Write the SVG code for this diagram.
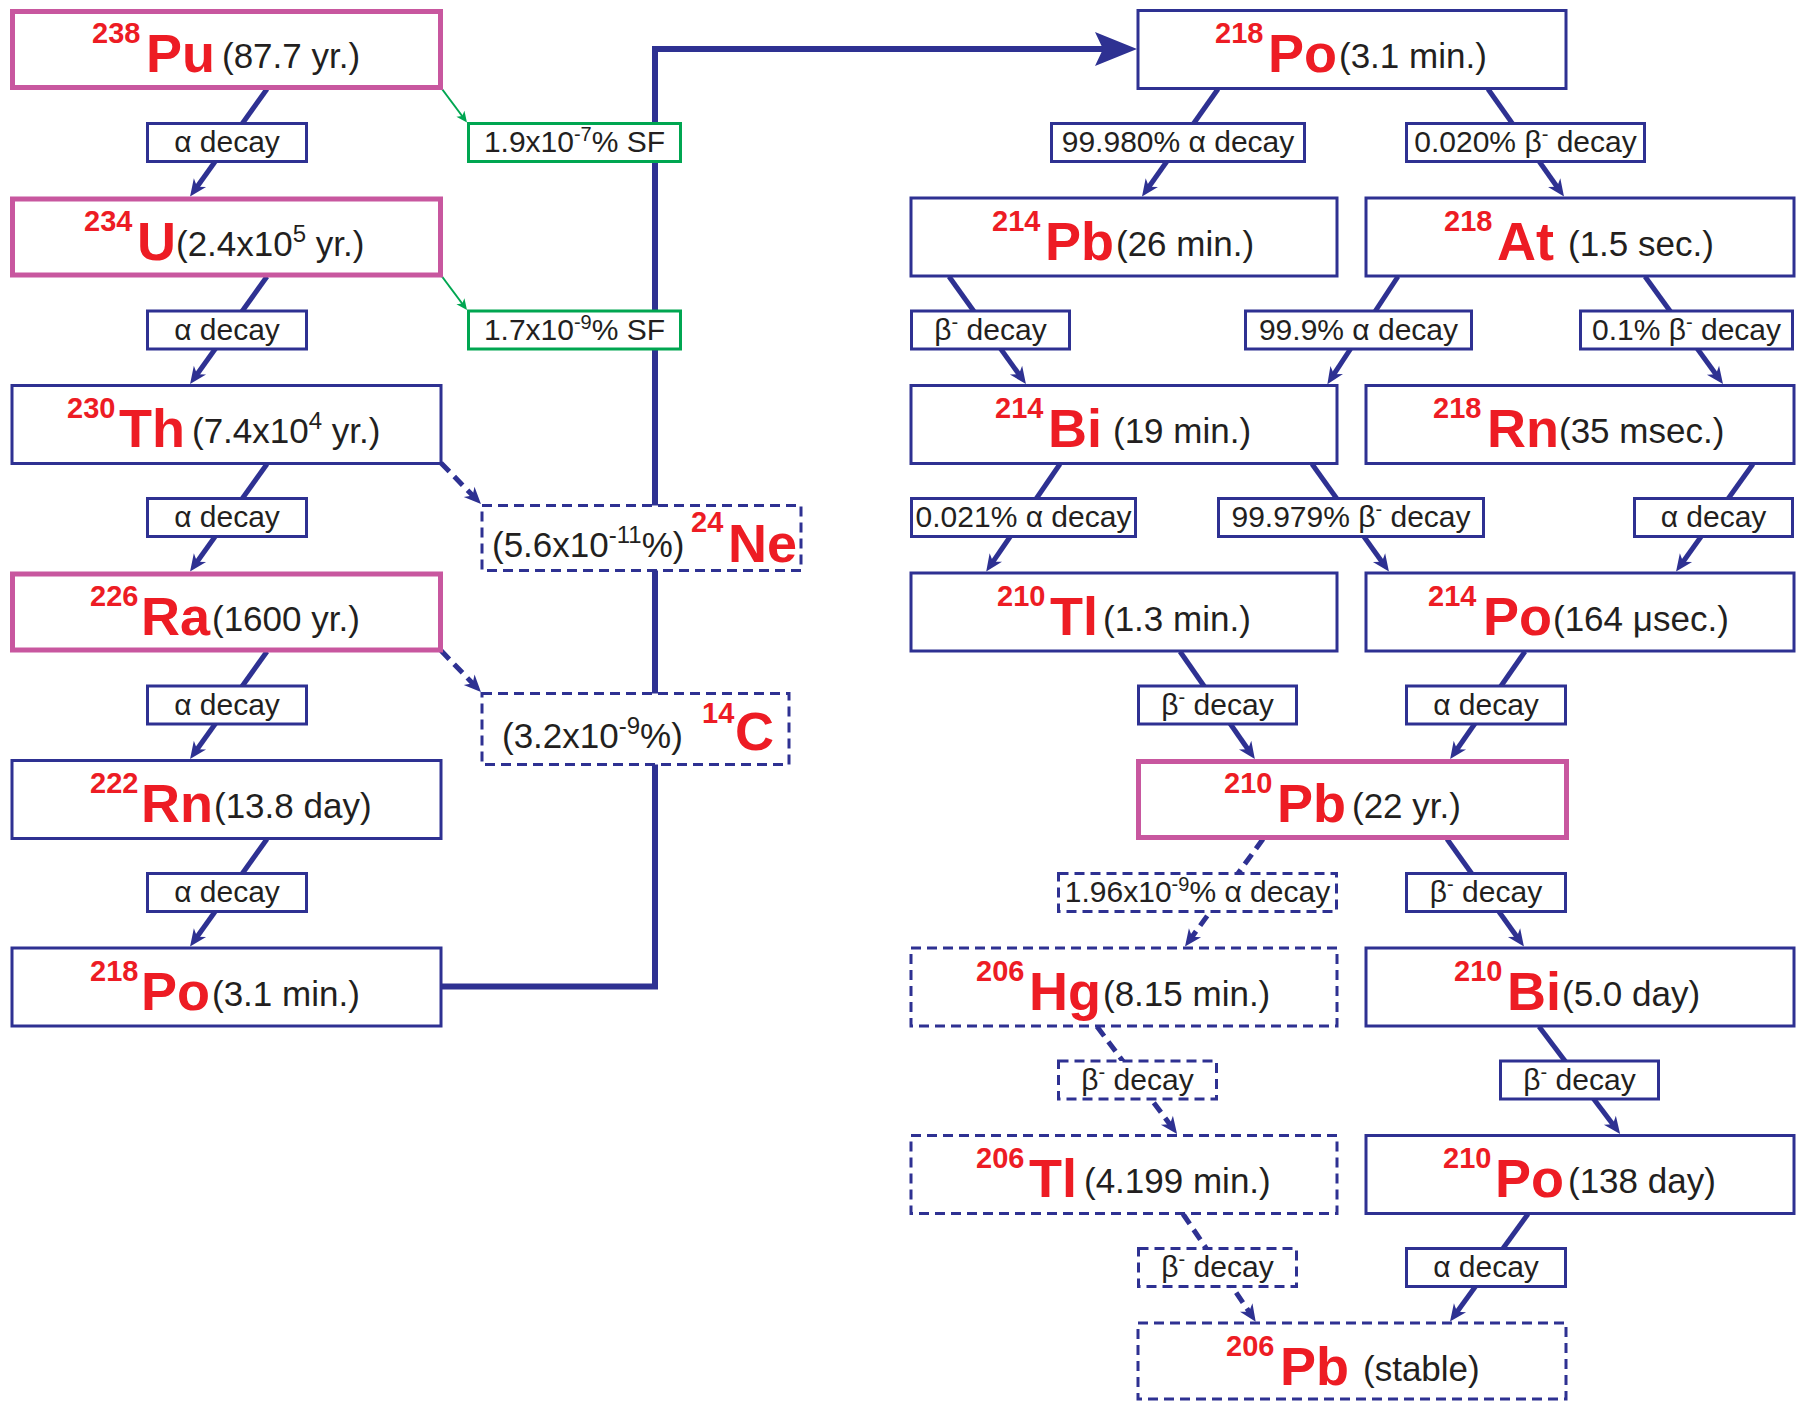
<svg xmlns="http://www.w3.org/2000/svg" width="1801" height="1401" viewBox="0 0 1801 1401">
<style>
.node{fill:#fff;stroke:#2E3192;stroke-width:3}
.mag{fill:#fff;stroke:#C8579F;stroke-width:5}
.dash{fill:#fff;stroke:#2E3192;stroke-width:3;stroke-dasharray:10 6}
.lbl{fill:#fff;stroke:#2E3192;stroke-width:3}
.sf{fill:#fff;stroke:#00A651;stroke-width:3}
.mass{font-family:'Liberation Sans',Arial,Helvetica,sans-serif;font-weight:bold;font-size:29px;fill:#ED1C24}
.sym{font-family:'Liberation Sans',Arial,Helvetica,sans-serif;font-weight:bold;font-size:54px;fill:#ED1C24}
.hl{font-family:'Liberation Sans',Arial,Helvetica,sans-serif;font-size:35px;fill:#231F20}
.lt{font-family:'Liberation Sans',Arial,Helvetica,sans-serif;font-size:30px;fill:#231F20;text-anchor:middle}
.sup{font-size:24px}
.sup2{font-size:20px}
.conn{fill:none;stroke:#2E3192;stroke-width:5;marker-end:url(#ah)}
.connd{fill:none;stroke:#2E3192;stroke-width:5;stroke-dasharray:12 7;marker-end:url(#ah)}
.conng{fill:none;stroke:#00A651;stroke-width:2;marker-end:url(#ahg)}
.big{fill:none;stroke:#2E3192;stroke-width:6;marker-end:url(#ahb)}
</style>
<defs>
<marker id="ah" markerUnits="userSpaceOnUse" viewBox="-18 -9 18 18" markerWidth="18" markerHeight="18" refX="-9" refY="0" orient="auto"><path d="M0,0 L-17,-7.5 L-12,0 L-17,7.5 Z" fill="#2E3192"/></marker>
<marker id="ahg" markerUnits="userSpaceOnUse" viewBox="-12 -6 12 12" markerWidth="12" markerHeight="12" refX="-5" refY="0" orient="auto"><path d="M0,0 L-11,-5 L-8,0 L-11,5 Z" fill="#00A651"/></marker>
<marker id="ahb" markerUnits="userSpaceOnUse" viewBox="-44 -18 44 36" markerWidth="44" markerHeight="36" refX="-30" refY="0" orient="auto"><path d="M0,0 L-42,-17 L-34,0 L-42,17 Z" fill="#2E3192"/></marker>
</defs>
<rect x="0" y="0" width="1801" height="1401" fill="#fff"/>

<g id="connectors">
<path class="big" d="M442,986.5 H655 V49 H1107"/>
<line class="conn" x1="267" y1="89" x2="195.3" y2="189.2"/>
<line class="conn" x1="267" y1="276.5" x2="195.3" y2="376.7"/>
<line class="conn" x1="267" y1="464" x2="195.3" y2="564.2"/>
<line class="conn" x1="267" y1="651.5" x2="195.3" y2="751.7"/>
<line class="conn" x1="267" y1="839" x2="195.3" y2="939.2"/>
<line class="conng" x1="442" y1="89" x2="464" y2="118.5"/>
<line class="conng" x1="442" y1="276.5" x2="464" y2="306"/>
<line class="connd" x1="441" y1="463" x2="474.7" y2="497.6"/>
<line class="connd" x1="441" y1="650.5" x2="474.7" y2="685.5"/>
<line class="conn" x1="1218" y1="89" x2="1147.2" y2="189.2"/>
<line class="conn" x1="1488" y1="89" x2="1558.8" y2="189.2"/>
<line class="conn" x1="949" y1="276.5" x2="1020.7" y2="376.7"/>
<line class="conn" x1="1398" y1="276.5" x2="1332.3" y2="376.7"/>
<line class="conn" x1="1645" y1="276.5" x2="1717.7" y2="376.7"/>
<line class="conn" x1="1060" y1="464" x2="991.3" y2="564.2"/>
<line class="conn" x1="1312" y1="464" x2="1383.7" y2="564.2"/>
<line class="conn" x1="1753" y1="464" x2="1681.3" y2="564.2"/>
<line class="conn" x1="1180" y1="651.5" x2="1249.7" y2="751.7"/>
<line class="conn" x1="1525" y1="651.5" x2="1455.3" y2="751.7"/>
<line class="connd" x1="1263" y1="839" x2="1190.3" y2="939.2"/>
<line class="conn" x1="1447" y1="839" x2="1518.7" y2="939.2"/>
<line class="connd" x1="1097" y1="1026.5" x2="1171.7" y2="1126.7"/>
<line class="conn" x1="1539" y1="1026.5" x2="1614.7" y2="1126.7"/>
<line class="connd" x1="1183" y1="1214" x2="1250.7" y2="1314.2"/>
<line class="conn" x1="1528" y1="1214" x2="1455.3" y2="1314.2"/>
</g>

<g id="labels">
<g id="l-pu"><rect class="lbl" x="147.5" y="123.5" width="159" height="38"/><text class="lt" x="227" y="152">α decay</text></g>
<g id="l-u"><rect class="lbl" x="147.5" y="311" width="159" height="38"/><text class="lt" x="227" y="339.5">α decay</text></g>
<g id="l-th"><rect class="lbl" x="147.5" y="498.5" width="159" height="38"/><text class="lt" x="227" y="527">α decay</text></g>
<g id="l-ra"><rect class="lbl" x="147.5" y="686" width="159" height="38"/><text class="lt" x="227" y="714.5">α decay</text></g>
<g id="l-rn"><rect class="lbl" x="147.5" y="873.5" width="159" height="38"/><text class="lt" x="227" y="902">α decay</text></g>
<g id="l-sf1"><rect class="sf" x="468.5" y="123.5" width="212" height="38"/><text class="lt" x="574.5" y="152">1.9x10<tspan class="sup2" dy="-11">-7</tspan><tspan dy="11">% SF</tspan></text></g>
<g id="l-sf2"><rect class="sf" x="468.5" y="311" width="212" height="38"/><text class="lt" x="574.5" y="339.5">1.7x10<tspan class="sup2" dy="-11">-9</tspan><tspan dy="11">% SF</tspan></text></g>

<g id="l-po-pb"><rect class="lbl" x="1051.5" y="123.5" width="253" height="38"/><text class="lt" x="1178" y="152">99.980% α decay</text></g>
<g id="l-po-at"><rect class="lbl" x="1406.5" y="123.5" width="238" height="38"/><text class="lt" x="1525.5" y="152">0.020% β<tspan class="sup2" dy="-11">-</tspan><tspan dy="11"> decay</tspan></text></g>
<g id="l-pb-bi"><rect class="lbl" x="911.5" y="311" width="158" height="38"/><text class="lt" x="990.5" y="339.5">β<tspan class="sup2" dy="-11">-</tspan><tspan dy="11"> decay</tspan></text></g>
<g id="l-at-bi"><rect class="lbl" x="1245.5" y="311" width="226" height="38"/><text class="lt" x="1358.5" y="339.5">99.9% α decay</text></g>
<g id="l-at-rn"><rect class="lbl" x="1580.5" y="311" width="212" height="38"/><text class="lt" x="1686.5" y="339.5">0.1% β<tspan class="sup2" dy="-11">-</tspan><tspan dy="11"> decay</tspan></text></g>
<g id="l-bi-tl"><rect class="lbl" x="911.5" y="498.5" width="224" height="38"/><text class="lt" x="1023.5" y="527">0.021% α decay</text></g>
<g id="l-bi-po"><rect class="lbl" x="1218.5" y="498.5" width="265" height="38"/><text class="lt" x="1351" y="527">99.979% β<tspan class="sup2" dy="-11">-</tspan><tspan dy="11"> decay</tspan></text></g>
<g id="l-rn-po"><rect class="lbl" x="1634.5" y="498.5" width="158" height="38"/><text class="lt" x="1713.5" y="527">α decay</text></g>
<g id="l-tl-pb"><rect class="lbl" x="1138.5" y="686" width="158" height="38"/><text class="lt" x="1217.5" y="714.5">β<tspan class="sup2" dy="-11">-</tspan><tspan dy="11"> decay</tspan></text></g>
<g id="l-po-pb210"><rect class="lbl" x="1406.5" y="686" width="159" height="38"/><text class="lt" x="1486" y="714.5">α decay</text></g>
<g id="l-pb-hg"><rect class="dash" x="1058.5" y="873.5" width="278" height="38"/><text class="lt" x="1197.5" y="902">1.96x10<tspan class="sup2" dy="-11">-9</tspan><tspan dy="11">% α decay</tspan></text></g>
<g id="l-pb-bi210"><rect class="lbl" x="1406.5" y="873.5" width="159" height="38"/><text class="lt" x="1486" y="902">β<tspan class="sup2" dy="-11">-</tspan><tspan dy="11"> decay</tspan></text></g>
<g id="l-hg-tl"><rect class="dash" x="1058.5" y="1061" width="158" height="38"/><text class="lt" x="1137.5" y="1089.5">β<tspan class="sup2" dy="-11">-</tspan><tspan dy="11"> decay</tspan></text></g>
<g id="l-bi-po210"><rect class="lbl" x="1500.5" y="1061" width="158" height="38"/><text class="lt" x="1579.5" y="1089.5">β<tspan class="sup2" dy="-11">-</tspan><tspan dy="11"> decay</tspan></text></g>
<g id="l-tl-pb206"><rect class="dash" x="1138.5" y="1248.5" width="158" height="38"/><text class="lt" x="1217.5" y="1277">β<tspan class="sup2" dy="-11">-</tspan><tspan dy="11"> decay</tspan></text></g>
<g id="l-po-pb206"><rect class="lbl" x="1406.5" y="1248.5" width="159" height="38"/><text class="lt" x="1486" y="1277">α decay</text></g>
</g>

<g id="n-ne24"><rect class="dash" x="482" y="505.5" width="319" height="65"/>
<text class="hl" x="492" y="557">(5.6x10<tspan class="sup" dy="-14">-11</tspan><tspan dy="14">%)</tspan></text>
<text class="mass" x="691" y="532">24</text><text class="sym" x="728" y="562">Ne</text></g>
<g id="n-c14"><rect class="dash" x="482" y="693.5" width="307" height="71"/>
<text class="hl" x="502" y="748">(3.2x10<tspan class="sup" dy="-14">-9</tspan><tspan dy="14">%)</tspan></text>
<text class="mass" x="702" y="723">14</text><text class="sym" x="735" y="750">C</text></g>

<g id="n-pu238"><rect class="mag" x="12.5" y="11.5" width="428" height="76"/>
<text class="mass" x="92" y="43">238</text><text class="sym" x="146" y="72">Pu</text><text class="hl" x="222" y="68">(87.7 yr.)</text></g>
<g id="n-u234"><rect class="mag" x="12.5" y="199" width="428" height="76"/>
<text class="mass" x="84" y="230.5">234</text><text class="sym" x="137" y="259.5">U</text><text class="hl" x="176" y="255.5">(2.4x10<tspan class="sup" dy="-14">5</tspan><tspan dy="14"> yr.)</tspan></text></g>
<g id="n-th230"><rect class="node" x="12" y="385.5" width="429" height="78"/>
<text class="mass" x="67" y="418">230</text><text class="sym" x="119" y="447">Th</text><text class="hl" x="192" y="443">(7.4x10<tspan class="sup" dy="-14">4</tspan><tspan dy="14"> yr.)</tspan></text></g>
<g id="n-ra226"><rect class="mag" x="12.5" y="574" width="428" height="76"/>
<text class="mass" x="90" y="605.5">226</text><text class="sym" x="141" y="634.5">Ra</text><text class="hl" x="212" y="630.5">(1600 yr.)</text></g>
<g id="n-rn222"><rect class="node" x="12" y="760.5" width="429" height="78"/>
<text class="mass" x="90" y="793">222</text><text class="sym" x="141" y="822">Rn</text><text class="hl" x="214" y="818">(13.8 day)</text></g>
<g id="n-po218a"><rect class="node" x="12" y="948" width="429" height="78"/>
<text class="mass" x="90" y="980.5">218</text><text class="sym" x="141" y="1009.5">Po</text><text class="hl" x="212" y="1005.5">(3.1 min.)</text></g>

<g id="n-po218b"><rect class="node" x="1138" y="10.5" width="428" height="78"/>
<text class="mass" x="1215" y="43">218</text><text class="sym" x="1268" y="72">Po</text><text class="hl" x="1339" y="68">(3.1 min.)</text></g>
<g id="n-pb214"><rect class="node" x="911" y="198" width="426" height="78"/>
<text class="mass" x="992" y="230.5">214</text><text class="sym" x="1045" y="259.5">Pb</text><text class="hl" x="1116" y="255.5">(26 min.)</text></g>
<g id="n-at218"><rect class="node" x="1366" y="198" width="428" height="78"/>
<text class="mass" x="1444" y="230.5">218</text><text class="sym" x="1497" y="259.5">At</text><text class="hl" x="1568" y="255.5">(1.5 sec.)</text></g>
<g id="n-bi214"><rect class="node" x="911" y="385.5" width="426" height="78"/>
<text class="mass" x="995" y="418">214</text><text class="sym" x="1048" y="447">Bi</text><text class="hl" x="1113" y="443">(19 min.)</text></g>
<g id="n-rn218"><rect class="node" x="1366" y="385.5" width="428" height="78"/>
<text class="mass" x="1433" y="418">218</text><text class="sym" x="1487" y="447">Rn</text><text class="hl" x="1559" y="443">(35 msec.)</text></g>
<g id="n-tl210"><rect class="node" x="911" y="573" width="426" height="78"/>
<text class="mass" x="997" y="605.5">210</text><text class="sym" x="1050" y="634.5">Tl</text><text class="hl" x="1103" y="630.5">(1.3 min.)</text></g>
<g id="n-po214"><rect class="node" x="1366" y="573" width="428" height="78"/>
<text class="mass" x="1428" y="605.5">214</text><text class="sym" x="1483" y="634.5">Po</text><text class="hl" x="1553" y="630.5">(164 μsec.)</text></g>
<g id="n-pb210"><rect class="mag" x="1138.5" y="761.5" width="428" height="76"/>
<text class="mass" x="1224" y="793">210</text><text class="sym" x="1277" y="822">Pb</text><text class="hl" x="1352" y="818">(22 yr.)</text></g>
<g id="n-hg206"><rect class="dash" x="911" y="948" width="426" height="78"/>
<text class="mass" x="976" y="980.5">206</text><text class="sym" x="1029" y="1009.5">Hg</text><text class="hl" x="1103" y="1005.5">(8.15 min.)</text></g>
<g id="n-bi210"><rect class="node" x="1366" y="948" width="428" height="78"/>
<text class="mass" x="1454" y="980.5">210</text><text class="sym" x="1507" y="1009.5">Bi</text><text class="hl" x="1562" y="1005.5">(5.0 day)</text></g>
<g id="n-tl206"><rect class="dash" x="911" y="1135.5" width="426" height="78"/>
<text class="mass" x="976" y="1168">206</text><text class="sym" x="1029" y="1197">Tl</text><text class="hl" x="1084" y="1193">(4.199 min.)</text></g>
<g id="n-po210"><rect class="node" x="1366" y="1135.5" width="428" height="78"/>
<text class="mass" x="1443" y="1168">210</text><text class="sym" x="1495" y="1197">Po</text><text class="hl" x="1568" y="1193">(138 day)</text></g>
<g id="n-pb206"><rect class="dash" x="1138" y="1323" width="428" height="76"/>
<text class="mass" x="1226" y="1355.5">206</text><text class="sym" x="1280" y="1384.5">Pb</text><text class="hl" x="1363" y="1380.5">(stable)</text></g>
</svg>
